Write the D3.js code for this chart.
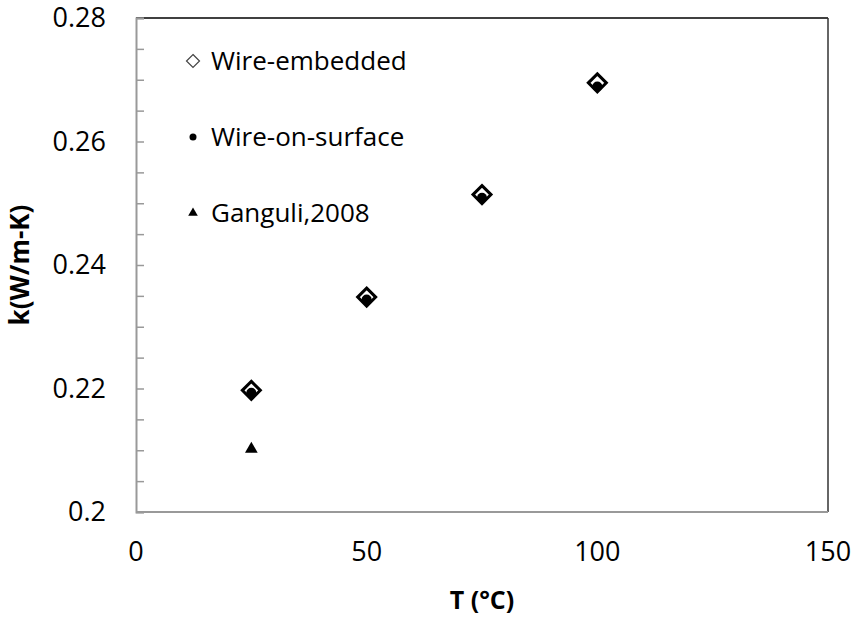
<!DOCTYPE html>
<html>
<head>
<meta charset="utf-8">
<script src="https://cdn.jsdelivr.net/npm/d3@7"></script>
<style>
  body { margin: 0; background: #fff; }
  text { font-family: "Open Sans", "Noto Sans", sans-serif; fill: #000; }
</style>
</head>
<body>
<div id="chart"></div>
<script>
// data
const tempsEmbedded = [25, 50, 75, 100];
const kEmbedded = [0.2197, 0.2348, 0.2514, 0.2695];
const tempsSurface = [25, 50, 75, 100];
const kSurface = [0.2193, 0.2344, 0.2509, 0.2689];
const tempsGanguli = [25];
const kGanguli = [0.2102];
const xTicks = [0, 50, 100, 150];
const yTicks = [0.2, 0.22, 0.24, 0.26, 0.28];
const legendNames = ["Wire-embedded", "Wire-on-surface", "Ganguli,2008"];

const width = 856, height = 619;
const margin = {top: 18, right: 28, bottom: 107, left: 136};
const fs = 27;

const svg = d3.select("#chart").append("svg")
    .attr("width", width)
    .attr("height", height);

const x = d3.scaleLinear().domain([0, 150]).range([margin.left, width - margin.right]);
const y = d3.scaleLinear().domain([0.2, 0.28]).range([height - margin.bottom, margin.top]);

// frame: top & right dark, axes gray
svg.append("line")
    .attr("x1", x(0)).attr("x2", x(150)).attr("y1", y(0.28)).attr("y2", y(0.28))
    .attr("stroke", "#000").attr("stroke-width", 1.5);
svg.append("line")
    .attr("x1", x(150)).attr("x2", x(150)).attr("y1", y(0.28)).attr("y2", y(0.2))
    .attr("stroke", "#333").attr("stroke-width", 1.5);

// y axis with inside ticks every 0.005
const yAxis = g => {
    g.attr("transform", `translate(${x(0)},0)`)
        .call(d3.axisRight(y).tickValues(d3.range(0.2, 0.2801, 0.005)).tickSize(8).tickFormat(""))
        .call(g => g.select(".domain").attr("stroke", "#999").attr("stroke-width", 2));
    g.selectAll(".tick line").attr("stroke", "#999").attr("stroke-width", 1.5);
};
svg.append("g").call(yAxis);

svg.append("g")
    .selectAll("text")
    .data(yTicks)
    .join("text")
    .attr("x", x(0) - 30)
    .attr("y", d => y(d))
    .attr("dy", "0.35em")
    .attr("text-anchor", "end")
    .attr("font-size", fs)
    .text(d => d === 0.2 ? "0.2" : d3.format(".2f")(d));

// x axis
svg.append("line")
    .attr("x1", x(0)).attr("x2", x(150)).attr("y1", y(0.2)).attr("y2", y(0.2))
    .attr("stroke", "#999").attr("stroke-width", 2);

svg.append("g")
    .selectAll("text")
    .data(xTicks)
    .join("text")
    .attr("x", d => x(d))
    .attr("y", y(0.2) + 40)
    .attr("dy", "0.35em")
    .attr("text-anchor", "middle")
    .attr("font-size", fs)
    .text(d => d);

// axis titles
svg.append("text")
    .attr("x", x(75))
    .attr("y", 609)
    .attr("text-anchor", "middle")
    .attr("font-size", 25)
    .attr("font-weight", "bold")
    .text("T (°C)");

svg.append("text")
    .attr("transform", `translate(29,${(y(0.2) + y(0.28)) / 2}) rotate(-90)`)
    .attr("text-anchor", "middle")
    .attr("font-size", 26)
    .attr("font-weight", "bold")
    .text("k(W/m-K)");

// markers
const diamond = s => `M0,${-s}L${s},0L0,${s}L${-s},0Z`;

svg.append("g")
    .selectAll("path")
    .data(tempsEmbedded.map((t, i) => [t, kEmbedded[i]]))
    .join("path")
    .attr("transform", d => `translate(${x(d[0])},${y(d[1])})`)
    .attr("d", diamond(9))
    .attr("fill", "#fff")
    .attr("stroke", "#000")
    .attr("stroke-width", 3);

svg.append("g")
    .selectAll("circle")
    .data(tempsSurface.map((t, i) => [t, kSurface[i]]))
    .join("circle")
    .attr("cx", d => x(d[0]))
    .attr("cy", d => y(d[1]))
    .attr("r", 5)
    .attr("fill", "#000");

const tri = d3.symbol().type(d3.symbolTriangle).size(70);
svg.append("g")
    .selectAll("path")
    .data(tempsGanguli.map((t, i) => [t, kGanguli[i]]))
    .join("path")
    .attr("transform", d => `translate(${x(d[0])},${y(d[1])})`)
    .attr("d", tri())
    .attr("fill", "#000");

// legend
const legendY = [61, 137, 213];
const lg = svg.append("g");
lg.append("path")
    .attr("transform", `translate(193,${legendY[0]})`)
    .attr("d", diamond(6.5))
    .attr("fill", "#fff")
    .attr("stroke", "#444")
    .attr("stroke-width", 1.2);
lg.append("circle")
    .attr("cx", 193).attr("cy", legendY[1]).attr("r", 3.5).attr("fill", "#000");
lg.append("path")
    .attr("transform", `translate(193,${legendY[2]})`)
    .attr("d", d3.symbol().type(d3.symbolTriangle).size(40)())
    .attr("fill", "#000");
lg.selectAll("text")
    .data(legendNames)
    .join("text")
    .attr("x", 211)
    .attr("y", (d, i) => legendY[i])
    .attr("dy", "0.35em")
    .attr("font-size", 26)
    .text(d => d);
</script>
</body>
</html>
